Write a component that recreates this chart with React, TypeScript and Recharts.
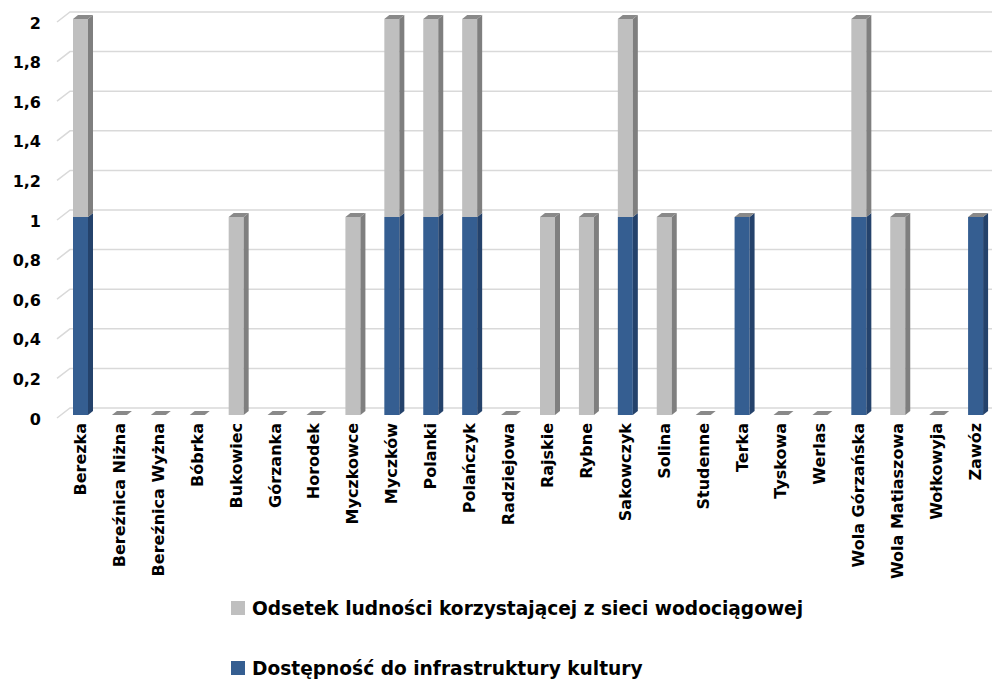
import React from 'react'
import { BarChart, Bar, XAxis, YAxis, CartesianGrid, Legend } from 'recharts'

const villages = [
  'Berezka', 'Bereźnica Niżna', 'Bereźnica Wyżna', 'Bóbrka', 'Bukowiec', 'Górzanka',
  'Horodek', 'Myczkowce', 'Myczków', 'Polanki', 'Polańczyk', 'Radziejowa', 'Rajskie',
  'Rybne', 'Sakowczyk', 'Solina', 'Studenne', 'Terka', 'Tyskowa', 'Werlas',
  'Wola Górzańska', 'Wola Matiaszowa', 'Wołkowyja', 'Zawóz'
]
const kultura = [1, 0, 0, 0, 0, 0, 0, 0, 1, 1, 1, 0, 0, 0, 1, 0, 0, 1, 0, 0, 1, 0, 0, 1]
const wodociag = [1, 0, 0, 0, 1, 0, 0, 1, 1, 1, 1, 0, 1, 1, 1, 1, 0, 0, 0, 0, 1, 1, 0, 0]
const yTicks = [0, 0.2, 0.4, 0.6, 0.8, 1, 1.2, 1.4, 1.6, 1.8, 2]

const data = villages.map((name, i) => ({ name, kultura: kultura[i], wodociag: wodociag[i] }))

const DX = 5
const DY = 4
const FONT = '"DejaVu Sans", sans-serif'

const BlueShape = (props: any) => {
  const { x, y, width, height } = props
  if (!height) return <g />
  return (
    <g>
      <rect x={x} y={y} width={width} height={height} fill="#355e91" />
      <polygon
        points={`${x + width},${y} ${x + width + DX},${y - DY} ${x + width + DX},${y + height - DY} ${x + width},${y + height}`}
        fill="#24426b"
      />
    </g>
  )
}

const GrayShape = (props: any) => {
  const { x, y, width, height } = props
  const h = height || 0
  return (
    <g>
      {h > 0 && <rect x={x} y={y} width={width} height={h} fill="#bfbfbf" />}
      {h > 0 && (
        <polygon
          points={`${x + width},${y} ${x + width + DX},${y - DY} ${x + width + DX},${y + h - DY} ${x + width},${y + h}`}
          fill="#7f7f7f"
        />
      )}
      <polygon
        points={`${x},${y} ${x + DX},${y - DY} ${x + width + DX},${y - DY} ${x + width},${y}`}
        fill="#898989"
      />
    </g>
  )
}

const GridLine = (props: any) => {
  const { x1, x2, y1 } = props
  return (
    <polyline
      points={`${x1 - 4},${y1 + 3} ${x1 + 9},${y1 - 7} ${x2},${y1 - 7}`}
      fill="none"
      stroke="#d9d9d9"
      strokeWidth={1.5}
    />
  )
}

const XTick = (props: any) => {
  const { x, y, payload } = props
  return (
    <text
      x={x}
      y={y + 2}
      transform={`rotate(-90 ${x} ${y + 2})`}
      textAnchor="end"
      dominantBaseline="central"
      fontFamily={FONT}
      fontWeight="bold"
      fontSize={16}
      fill="#000"
    >
      {payload.value}
    </text>
  )
}

const legendItems = [
  { label: 'Odsetek ludności korzystającej z sieci wodociągowej', color: '#bfbfbf' },
  { label: 'Dostępność do infrastruktury kultury', color: '#355e91' }
]

const LegendContent = () => (
  <div style={{ fontFamily: FONT, fontWeight: 'bold', fontSize: 18.6, color: '#000' }}>
    {legendItems.map((it, i) => (
      <div key={i} style={{ display: 'flex', alignItems: 'center', height: 30, marginBottom: i === 0 ? 30 : 0 }}>
        <span style={{ display: 'inline-block', width: 14, height: 14, background: it.color, marginRight: 7 }} />
        {it.label}
      </div>
    ))}
  </div>
)

export default function App() {
  return (
    <div style={{ position: 'absolute', left: 0, top: 0, width: 992, height: 688, overflow: 'hidden', background: '#fff' }}>
      <BarChart
        width={1000}
        height={688}
        data={data}
        margin={{ top: 19, right: 5, left: 0, bottom: 0 }}
        barSize={15}
      >
        <CartesianGrid vertical={false} horizontal={<GridLine />} />
        <XAxis
          dataKey="name"
          interval={0}
          tickLine={false}
          axisLine={false}
          height={273}
          tick={<XTick />}
          tickMargin={0}
        />
        <YAxis
          width={61}
          domain={[0, 2]}
          ticks={yTicks}
          tickLine={false}
          axisLine={false}
          tickFormatter={(v: number) => String(v).replace('.', ',')}
          tick={{ fontFamily: FONT, fontWeight: 'bold', fontSize: 16, fill: '#000', dy: 4, dx: -12 }}
        />
        <Legend
          layout="vertical"
          align="center"
          verticalAlign="middle"
          wrapperStyle={{ top: 593, left: 231, width: 740 }}
          content={<LegendContent />}
        />
        <Bar dataKey="kultura" stackId="a" shape={<BlueShape />} isAnimationActive={false} />
        <Bar dataKey="wodociag" stackId="a" shape={<GrayShape />} isAnimationActive={false} />
      </BarChart>
    </div>
  )
}
